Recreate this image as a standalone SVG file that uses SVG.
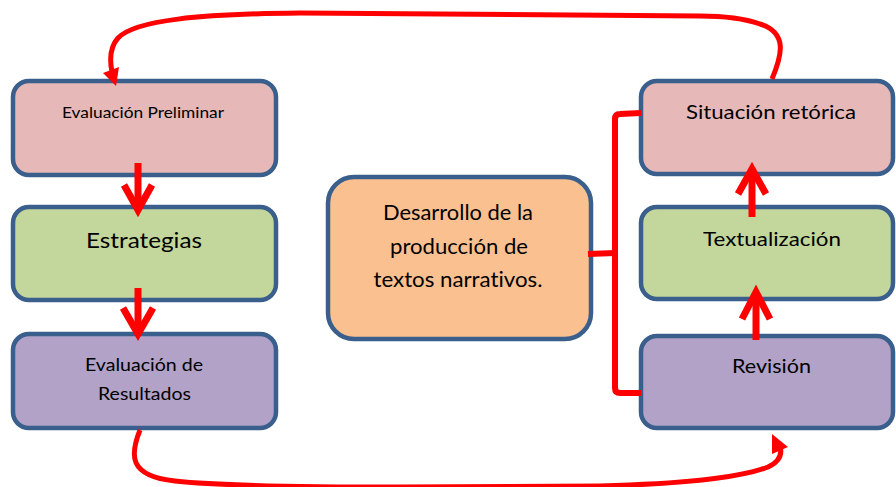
<svg xmlns="http://www.w3.org/2000/svg" width="896" height="487" viewBox="0 0 896 487">
<style>
.box{stroke:#3A5F8C;stroke-width:4.5}
.pink{fill:#E6B9B8}.green{fill:#C3D69B}.purple{fill:#B2A2C7}.orange{fill:#FAC090}
text{font-family:Lato,"Liberation Sans",sans-serif;fill:#000;text-anchor:middle;font-variant-ligatures:none;font-feature-settings:"liga" 0}
.c{fill:none;stroke:#FF0000;stroke-width:5;stroke-linecap:butt}
.a{fill:none;stroke:#FF0000;stroke-width:7;stroke-linejoin:miter;stroke-miterlimit:10}
.h{fill:#FF0000;stroke:none}
</style>
<rect width="896" height="487" fill="#fff"/>
<g id="evaluacion-preliminar"><rect class="box pink" x="13" y="81" width="263" height="94" rx="16"/><text x="143" y="118" font-size="15" textLength="162" lengthAdjust="spacingAndGlyphs">Evaluación Preliminar</text></g>
<g id="estrategias"><rect class="box green" x="13" y="207" width="263" height="93" rx="16"/><text x="144" y="248" font-size="22" textLength="116" lengthAdjust="spacingAndGlyphs">Estrategias</text></g>
<g id="evaluacion-resultados"><rect class="box purple" x="13" y="334" width="263" height="94" rx="16"/><text x="144" y="371" font-size="18" textLength="118" lengthAdjust="spacingAndGlyphs">Evaluación de</text><text x="144.5" y="400" font-size="18" textLength="93" lengthAdjust="spacingAndGlyphs">Resultados</text></g>
<g id="desarrollo"><rect class="box orange" x="328" y="177" width="263" height="162" rx="26"/><text x="458" y="220" font-size="21" textLength="150" lengthAdjust="spacingAndGlyphs">Desarrollo de la</text><text x="459" y="254" font-size="21" textLength="138" lengthAdjust="spacingAndGlyphs">producción de</text><text x="458" y="287" font-size="21" textLength="169" lengthAdjust="spacingAndGlyphs">textos narrativos.</text></g>
<g id="situacion-retorica"><rect class="box pink" x="641" y="81" width="252" height="93" rx="16"/><text x="771" y="119" font-size="20" textLength="170" lengthAdjust="spacingAndGlyphs">Situación retórica</text></g>
<g id="textualizacion"><rect class="box green" x="641" y="207" width="252" height="92" rx="16"/><text x="772" y="246" font-size="20" textLength="138" lengthAdjust="spacingAndGlyphs">Textualización</text></g>
<g id="revision"><rect class="box purple" x="641" y="336" width="252" height="92" rx="16"/><text x="771.5" y="373" font-size="20" textLength="79" lengthAdjust="spacingAndGlyphs">Revisión</text></g>
<g id="connectors">
<path class="c" d="M772,79 C782,55 788,33 760,24 C740,17 720,16 700,16 L300,13 C200,14 135,20 118,38 C109,48 110,62 112,72"/>
<polygon class="h" points="103,73 119,67 116,86"/>
<path class="c" d="M140,430 C130,455 128,476 175,481 C220,486 300,487 400,487 L600,486 C680,484 740,478 768,467 C781,461 782,453 780,446"/>
<polygon class="h" points="772,434 788,447 772,454"/>
<line class="a" x1="138" y1="163" x2="138" y2="208"/>
<polyline class="a" points="124,185 138,210 152,185"/>
<line class="a" x1="138" y1="288" x2="138" y2="334"/>
<polyline class="a" points="123,308 138,334 153,308"/>
<line class="a" x1="752" y1="217" x2="752" y2="170"/>
<polyline class="a" points="738,194 752,169 766,194"/>
<line class="a" x1="756" y1="340" x2="756" y2="293"/>
<polyline class="a" points="742,319 756,292 770,319"/>
<path fill="none" stroke="#FF0000" stroke-width="6" d="M641,113 L620,114 Q615,114 615,119 L615,388 Q615,393 620,393 L641,393"/>
<path fill="none" stroke="#FF0000" stroke-width="6" d="M588,254 L615,253"/>
</g>
</svg>
